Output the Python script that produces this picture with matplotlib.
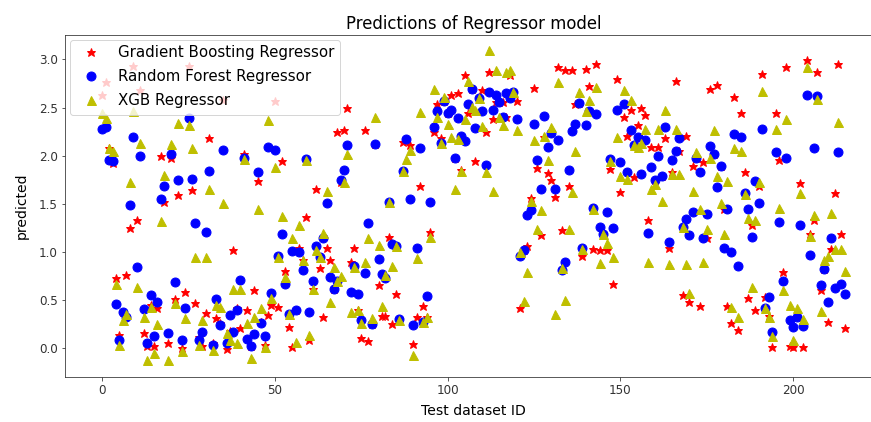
import numpy as np
import matplotlib
matplotlib.use("Agg")
import matplotlib.pyplot as plt

# predicted values per test sample
gbPred = [2.63, 2.77, 2.08, 1.92, 0.73, 0.14, 0.38, 0.76, 1.25, 2.93,
          1.33, 2.68, 0.16, 0.02, 0.45, 0.02, 0.42, 2.00, 1.52, 0.06,
          1.98, 0.51, 1.59, 0.00, 0.58, 2.93, 1.64, 0.47, 0.12, 0.02,
          0.37, 2.18, 0.05, 0.31, 0.26, 2.58, -0.01, 0.18, 1.02, 0.42,
          0.21, 2.02, 0.40, 0.02, 0.61, 1.74, 0.27, 0.03, 0.35, 0.45,
          2.57, 0.43, 1.94, 0.80, 0.22, 0.01, 0.40, 1.04, 0.92, 1.36,
          0.09, 0.62, 1.65, 0.83, 0.32, 1.04, 0.92, 0.62, 2.25, 1.73,
          2.27, 2.49, 0.90, 1.04, 0.40, 0.11, 2.27, 0.08, 0.25, 2.12,
          0.66, 0.34, 0.34, 1.16, 0.25, 0.56, 0.30, 2.14, 2.17, 2.11,
          0.04, 0.32, 1.68, 0.44, 0.33, 1.21, 2.25, 2.54, 2.18, 2.57,
          2.44, 2.63, 1.98, 2.65, 1.85, 2.84, 2.44, 2.69, 1.94, 2.60,
          2.68, 2.25, 2.87, 2.38, 2.56, 2.56, 2.56, 2.40, 2.84, 2.66,
          2.57, 0.42, 1.02, 1.06, 1.56, 2.70, 1.87, 1.18, 2.19, 1.82,
          1.75, 1.57, 2.92, 1.23, 2.89, 1.68, 2.89, 2.54, 2.55, 0.96,
          2.90, 2.72, 1.03, 2.95, 1.02, 1.19, 1.02, 1.86, 0.67, 2.80,
          1.62, 2.40, 2.20, 2.47, 1.78, 2.32, 2.49, 2.42, 1.33, 2.09,
          1.75, 2.09, 1.79, 2.18, 1.04, 1.83, 2.78, 2.05, 0.55, 2.20,
          0.48, 1.89, 1.98, 0.44, 1.93, 1.14, 2.69, 2.02, 2.73, 1.89,
          1.45, 0.44, 0.26, 2.61, 0.19, 2.44, 1.83, 0.52, 1.28, 0.40,
          1.68, 2.85, 0.53, 0.34, 0.01, 2.44, 1.96, 0.79, 2.92, 0.02,
          0.01, 0.32, 1.72, 0.01, 2.99, 1.19, 1.33, 2.87, 0.61, 0.82,
          0.27, 1.03, 1.61, 2.95, 1.19, 0.21]

rfPred = [2.28, 2.30, 1.96, 1.94, 0.46, 0.09, 0.38, 0.33, 1.49, 2.19,
          0.84, 2.00, 0.41, 0.05, 0.55, 0.13, 0.48, 1.55, 1.68, 0.16,
          2.02, 0.69, 1.75, 0.09, 0.42, 2.39, 1.76, 1.30, 0.09, 0.17,
          1.21, 1.84, 0.03, 0.51, 0.24, 2.06, 0.05, 0.35, 0.17, 0.40,
          0.71, 1.98, 0.10, 0.02, 0.15, 1.83, 0.26, 0.13, 2.09, 0.57,
          2.06, 0.96, 1.19, 0.67, 0.36, 1.01, 0.40, 1.00, 0.81, 1.97,
          0.38, 0.70, 1.06, 0.95, 1.14, 1.51, 0.74, 0.62, 0.70, 1.75,
          1.85, 2.11, 0.58, 0.85, 0.56, 0.29, 0.78, 1.30, 0.25, 2.12,
          0.93, 0.77, 0.73, 1.52, 1.08, 1.06, 0.30, 1.84, 2.17, 1.55,
          0.24, 1.04, 2.08, 0.27, 0.54, 1.52, 2.30, 2.46, 2.13, 2.57,
          2.44, 2.47, 1.98, 2.39, 2.20, 2.15, 2.54, 2.69, 2.29, 2.60,
          2.46, 1.90, 2.66, 2.47, 2.63, 2.56, 2.40, 2.65, 2.60, 2.66,
          2.38, 0.96, 1.02, 1.38, 1.44, 2.33, 1.96, 1.65, 2.41, 2.09,
          2.24, 1.65, 2.16, 0.81, 0.90, 1.85, 2.26, 2.33, 2.55, 1.04,
          2.32, 2.46, 1.46, 2.43, 1.26, 1.19, 1.41, 1.97, 1.25, 2.47,
          1.93, 2.54, 1.83, 2.27, 2.11, 2.19, 1.81, 2.16, 1.20, 1.88,
          1.75, 2.00, 1.79, 2.30, 1.10, 1.96, 2.05, 2.18, 1.26, 1.34,
          1.18, 1.42, 1.98, 1.83, 1.14, 1.39, 2.10, 2.02, 1.67, 1.89,
          1.04, 1.45, 1.00, 2.22, 0.85, 2.19, 1.61, 1.45, 1.16, 1.74,
          1.51, 2.28, 0.42, 0.53, 0.17, 2.04, 1.31, 0.70, 1.98, 0.29,
          0.22, 0.32, 1.28, 0.23, 2.63, 0.97, 2.08, 2.62, 0.66, 0.82,
          0.48, 1.14, 0.63, 2.04, 0.67, 0.56]

xgbPred = [2.44, 2.39, 2.08, 2.05, 0.67, 0.03, 0.29, 0.36, 1.73, 2.46,
           0.64, 2.13, 0.33, -0.12, 0.43, -0.05, 0.25, 1.32, 1.80, -0.12,
           2.12, 0.47, 2.34, -0.03, 0.31, 2.32, 2.08, 0.95, 0.03, 0.29,
           0.95, 1.65, -0.02, 0.45, 0.43, 1.51, 0.16, 0.09, 0.62, 0.05,
           0.62, 1.97, 0.26, -0.10, 0.33, 1.45, 0.42, 0.01, 2.37, 0.52,
           1.88, 0.95, 1.37, 0.74, 0.36, 1.14, 0.07, 1.28, 0.92, 1.96,
           0.14, 0.62, 1.02, 0.95, 1.20, 1.63, 0.48, 0.84, 0.70, 0.75,
           1.73, 2.02, 0.38, 0.84, 0.40, 0.26, 0.90, 1.15, 0.31, 2.40,
           1.07, 0.44, 0.76, 1.52, 0.85, 1.06, 0.29, 1.84, 1.97, 2.06,
           -0.07, 0.94, 2.45, 0.27, 0.33, 1.16, 2.69, 2.40, 2.13, 2.61,
           2.33, 2.19, 1.65, 2.17, 1.84, 2.38, 2.78, 2.51, 2.47, 2.60,
           2.31, 1.83, 3.10, 1.63, 2.89, 2.40, 2.32, 2.87, 2.89, 2.66,
           2.27, 1.00, 0.49, 0.79, 1.53, 2.16, 1.24, 1.44, 2.20, 1.96,
           2.30, 0.36, 2.76, 0.83, 0.50, 1.24, 1.62, 2.05, 2.66, 1.03,
           2.46, 2.58, 1.45, 2.71, 0.89, 1.19, 1.09, 1.94, 0.95, 2.19,
           1.79, 2.68, 1.76, 2.58, 2.11, 2.09, 2.13, 2.28, 0.90, 1.65,
           1.71, 2.28, 1.53, 2.47, 0.88, 1.81, 2.28, 1.81, 1.26, 0.88,
           0.57, 1.63, 2.04, 1.45, 0.90, 1.24, 1.98, 2.27, 1.79, 1.51,
           1.19, 1.74, 0.43, 2.08, 0.33, 2.05, 1.60, 1.35, 0.64, 1.33,
           1.73, 2.67, 0.42, 0.32, 0.13, 2.28, 1.46, 0.61, 2.38, 0.45,
           0.09, 0.42, 1.61, 0.30, 2.92, 1.17, 1.38, 2.59, 0.39, 0.92,
           0.96, 1.40, 1.03, 2.35, 1.03, 0.80]

labels = ["Gradient Boosting Regressor", "Random Forest Regressor", "XGB Regressor"]

W, H = 871, 422
fig = plt.figure(figsize=(W / 72, H / 72), dpi=72)
# axes runs a little past the right edge, as in the cropped notebook output
ax = fig.add_axes([65 / W, (H - 376.7) / H, (882 - 65) / W, (376.7 - 35) / H])

ids = np.arange(len(gbPred))
ax.plot(ids, gbPred, "r*", markersize=9, label=labels[0])
ax.plot(ids, rfPred, "bo", markersize=9, label=labels[1])
ax.plot(ids, xgbPred, "y^", markersize=9, label=labels[2])

ax.set_xlim(-10.75, 225.75)
ax.set_ylim(-0.295, 3.253)
ax.set_xticks([0, 50, 100, 150, 200])
ax.set_yticks([0.0, 0.5, 1.0, 1.5, 2.0, 2.5, 3.0])
ax.tick_params(labelsize=12, colors="#333333")
for s in ax.spines.values():
    s.set_color("#333333")

ax.set_title("Predictions of Regressor model", fontsize=16.5)
ax.set_xlabel("Test dataset ID", fontsize=14, labelpad=7)
ax.set_ylabel("predicted", fontsize=14, labelpad=10)
ax.legend(loc="upper left", fontsize=15, framealpha=0.8, borderaxespad=0.3,
          labelspacing=0.6)

fig.savefig("out.png", dpi=72)
